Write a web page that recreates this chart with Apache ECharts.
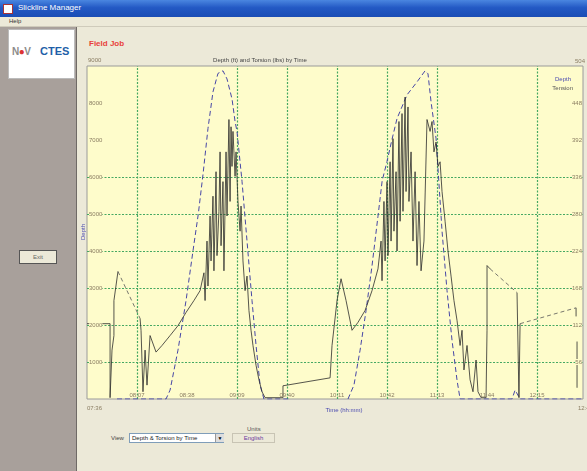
<!DOCTYPE html>
<html><head><meta charset="utf-8">
<script src="https://cdn.jsdelivr.net/npm/echarts@6/dist/echarts.min.js"></script>
<style>
html,body{margin:0;padding:0;width:587px;height:471px;overflow:hidden;background:#ECE9D8;font-family:"Liberation Sans",Arial,sans-serif;}
.abs{position:absolute;}
#chart{position:absolute;left:0;top:0;width:587px;height:471px;z-index:5;}
</style></head>
<body>
<div class="abs" style="left:0;top:0;width:587px;height:17px;background:linear-gradient(#4a86e0,#2359c4 45%,#1a4db5);"></div>
<div class="abs" style="left:3px;top:4px;width:8px;height:8px;background:#fff;border:1px solid #a33;"></div>
<div class="abs" style="left:18px;top:3px;color:#fff;font-size:8px;">Slickline Manager</div>
<div class="abs" style="left:0;top:17px;width:587px;height:9px;background:#ECE9D8;border-bottom:1px solid #cfcbbb;"></div>
<div class="abs" style="left:9px;top:18px;font-size:6px;color:#333;">Help</div>
<div class="abs" style="left:0;top:27px;width:76px;height:444px;background:#A8A09B;border-right:1px solid #6f6a66;"></div>
<div class="abs" style="left:8px;top:29px;width:67px;height:50px;background:#fff;border:1px solid #bbb;box-sizing:border-box;"></div>
<div class="abs" style="left:12px;top:46px;font-size:10px;font-weight:bold;color:#8c8c8c;letter-spacing:-0.5px;">N<span style="color:#d33">●</span>V</div>
<div class="abs" style="left:40px;top:45px;font-size:11px;font-weight:bold;color:#1F5FA8;">CTES</div>
<div class="abs" style="left:19px;top:250px;width:38px;height:14px;background:#ECE9D8;border:1px solid #555;box-sizing:border-box;font-size:6px;color:#666;text-align:center;line-height:12px;">Exit</div>
<div class="abs" style="left:89px;top:39px;font-size:8px;font-weight:bold;color:#E8403A;">Field Job</div>
<div class="abs" style="left:111px;top:435px;font-size:6px;color:#444;">View</div>
<div class="abs" style="left:129px;top:433px;width:95px;height:10px;background:#fff;border:1px solid #7f9db9;box-sizing:border-box;font-size:6px;color:#222;line-height:8px;padding-left:2px;">Depth &amp; Torsion by Time</div>
<div class="abs" style="left:215px;top:434px;width:8px;height:8px;background:#ddd;border-left:1px solid #999;font-size:5px;text-align:center;line-height:8px;">▼</div>
<div class="abs" style="left:247px;top:426px;font-size:6px;color:#555;">Units</div>
<div class="abs" style="left:232px;top:433px;width:43px;height:10px;border:1px solid #c8c4b4;box-sizing:border-box;font-size:6px;color:#6a3aa0;text-align:center;line-height:8px;">English</div>
<div id="chart"></div>
<script>
// Time in minutes after 07:36
var depthTimes  = [18.6,35.3,49,51.5,56.4,61.4,65.7,69,72,75,78.1,81.2,84.3,86.8,89.9,91.8,93,96.1,99.2,102.3,104.8,107.3,109.7,125.9,126,
                   161.8,165.5,169.3,173,176.7,180.4,183,186,189,192.2,198.4,204.6,209.6,211.4,213.3,216.4,217.6,220.1,223.2,226.3,229.4,231.3,263.5,265.4,268.5,307.5];
var depthValues = [0,0,0,240,1320,2660,4000,5000,6100,7310,8300,8800,8870,8650,8110,7500,7230,5885,4270,2660,1450,376,0,0,null,
                   0,376,1320,2390,3600,4940,5900,6420,7000,7580,8220,8570,8870,8790,8030,7040,6230,4540,2930,1585,510,0,0,240,0,0];

var tensionTimes  = [0,14.3,14.3,15.5,15.5,16.7,16.7,19.2,19.3,
  32.9,33.5,34.7,36,37.2,39.1,42.8,46.5,51.5,56.4,61.4,66.3,70.1,72.5,73.2,74.4,75,76.3,76.9,78.1,78.7,80,80.6,81.8,82.5,83.1,84.3,84.9,86.2,86.8,88,88.7,89.3,89.9,90.5,91.8,92.4,93.6,94.9,95.5,96.7,98,99.2,100.4,101.7,102.9,104.8,106.6,108.5,110.4,121.5,121.5,150.7,151.9,155,157.5,160.6,164.3,168,172.4,176.7,180.4,182.3,182.9,184.1,184.8,186,186.6,187.9,188.5,189.7,190.3,191.6,192.2,193.4,194.1,195.3,195.9,197.2,197.8,199,199.6,200.9,202.1,203.4,204.6,205.8,207.1,208.9,210.8,212.7,213.9,215.1,216.4,217.6,218.9,220.1,222,223.8,225.7,227.5,229.4,231.3,232.5,233.7,235.6,237.5,239.3,241.2,242.4,244.3,247.4,248,248,249.9,250,
  266.6,267.8,268.5,268.6,303.2,303.2,303.5,303.8,303.8];
var tensionValues = [114,114,2,2,74,96,149,193,null,
  122,104,11,74,21,96,71,81,96,111,131,149,164,191,149,239,171,277,209,307,194,344,217,284,374,232,329,194,374,277,423,299,412,352,405,337,374,299,254,292,209,164,186,134,104,81,51,29,11,2,2,20,32,81,149,182,149,104,116,134,164,197,239,179,299,209,329,217,359,239,394,254,344,224,420,269,432,284,457,314,442,299,374,239,344,202,299,194,239,423,405,420,374,389,352,359,314,269,224,186,149,119,81,104,44,81,29,11,59,11,2,2,104,202,197,null,
  161,2,114,null,138,125,null,87,17];

var gapTimes  = [19.2,32.9,33,249.9,266.6,266.7,268.5,303.2];
var gapValues = [193,122,null,197,161,null,114,138];

var depthTicks = [1000,2000,3000,4000,5000,6000];
var timeGridTicks = [31,93,124,155,186,217,279];

function zip(a,b){return a.map(function(t,i){return [t, b[i]===null?'-':b[i]];});}
function hhmm(m){var tot=7*60+36+Math.round(m);var h=Math.floor(tot/60),mm=tot%60;return (h<10?'0':'')+h+':'+(mm<10?'0':'')+mm;}

var bg='#FEFCCB', lab='#8a7d62', green='#45a862';
var gls={color:green,width:1.2,type:[2,1.5],opacity:1};
var chart=echarts.init(document.getElementById('chart'),null,{renderer:'canvas'});
var ml=[];
depthTicks.forEach(function(v){ml.push({yAxis:v,lineStyle:gls});});
timeGridTicks.forEach(function(v){ml.push({xAxis:v,lineStyle:gls});});
chart.setOption({
  animation:false,
  grid:{left:87,top:66,width:496,height:333,show:true,backgroundColor:bg,borderColor:'#9a9a9a',borderWidth:1},
  xAxis:{type:'value',min:0,max:307.5,interval:31,axisLine:{show:false},axisTick:{show:false},splitLine:{show:false},
    axisLabel:{inside:true,margin:1,fontSize:6,color:lab,showMinLabel:false,showMaxLabel:false,formatter:function(v){return hhmm(v);}},z:3},
  yAxis:[
    {type:'value',min:0,max:9000,interval:1000,position:'left',axisLine:{show:false},axisTick:{show:false},splitLine:{show:false},
     axisLabel:{inside:true,margin:2,fontSize:6,color:lab,showMinLabel:false,showMaxLabel:false,backgroundColor:bg,formatter:function(v){return String(v);}},z:3},
    {type:'value',min:0,max:504,interval:56,position:'right',axisLine:{show:false},axisTick:{show:false},splitLine:{show:false},
     axisLabel:{inside:true,margin:1,fontSize:6,color:lab,showMinLabel:false,showMaxLabel:false,backgroundColor:bg,formatter:function(v){return String(v);}},z:3}
  ],
  series:[
    {name:'Grid',type:'line',yAxisIndex:0,data:[],symbol:'none',z:1,silent:true,
     markLine:{silent:true,symbol:'none',label:{show:false},lineStyle:gls,data:ml,z:1}},
    {name:'Depth',type:'line',yAxisIndex:0,data:zip(depthTimes,depthValues),symbol:'none',z:2,
     lineStyle:{color:'#4646a6',width:1,type:[5,3]}},
    {name:'Tension',type:'line',yAxisIndex:1,data:zip(tensionTimes,tensionValues),symbol:'none',z:2,
     lineStyle:{color:'#2b2b2b',width:0.8}},
    {name:'TensionGap',type:'line',yAxisIndex:1,data:zip(gapTimes,gapValues),symbol:'none',z:2,
     lineStyle:{color:'#555',width:0.8,type:[4,3]}}
  ],
  graphic:[
    {type:'text',left:88,top:57,style:{text:'9000',fontSize:6,fill:lab}},
    {type:'text',right:2,top:58,style:{text:'504',fontSize:6,fill:lab}},
    {type:'text',left:87,top:405,style:{text:'07:36',fontSize:6,fill:lab}},
    {type:'text',left:578,top:405,style:{text:'12:43',fontSize:6,fill:lab}},
    {type:'text',x:260,y:60,style:{text:'Depth (ft) and Torsion (lbs) by Time',fontSize:6,fill:'#444',align:'center',verticalAlign:'middle'}},
    {type:'text',x:344,y:410,style:{text:'Time (hh:mm)',fontSize:6,fill:'#4a4ab0',align:'center',verticalAlign:'middle'}},
    {type:'text',x:83,y:232,rotation:Math.PI/2,style:{text:'Depth',fontSize:6,fill:'#4a4ab0',align:'center',verticalAlign:'middle'}},
    {type:'text',x:571,y:79,style:{text:'Depth',fontSize:6,fill:'#4a4ab0',align:'right',verticalAlign:'middle'}},
    {type:'text',x:573,y:88,style:{text:'Tension',fontSize:6,fill:'#555',align:'right',verticalAlign:'middle'}}
  ]
});
</script>
</body></html>
